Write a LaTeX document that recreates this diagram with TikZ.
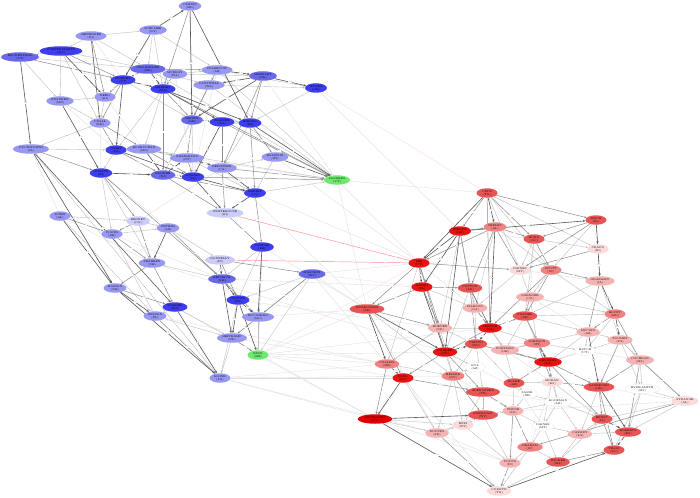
\documentclass[tikz,border=0pt]{standalone}
\usetikzlibrary{shapes.geometric,arrows.meta}
\pgfdeclarelayer{bg}\pgfdeclarelayer{edges}
\pgfsetlayers{bg,edges,main}
\definecolor{cb1}{RGB}{62,62,236}
\definecolor{cb2}{RGB}{104,104,232}
\definecolor{cb3}{RGB}{152,152,242}
\definecolor{cb4}{RGB}{204,204,248}
\definecolor{cg}{RGB}{110,232,110}
\definecolor{cr1}{RGB}{232,20,20}
\definecolor{cr2}{RGB}{232,84,84}
\definecolor{cr3}{RGB}{240,130,130}
\definecolor{cr4}{RGB}{245,178,178}
\definecolor{cr5}{RGB}{250,218,218}
\tikzset{
 nd/.style={ellipse,draw=none,inner xsep=1pt,inner ysep=0.3pt,minimum height=9.5pt,minimum width=21pt,align=center,font=\fontsize{2.6}{2.9}\selectfont,text=black},
 b1/.style={nd,fill=cb1},b2/.style={nd,fill=cb2},b3/.style={nd,fill=cb3},b4/.style={nd,fill=cb4},
 gn/.style={nd,fill=cg},
 r1/.style={nd,fill=cr1},r2/.style={nd,fill=cr2},r3/.style={nd,fill=cr3},r4/.style={nd,fill=cr4},r5/.style={nd,fill=cr5},
 wn/.style={nd,fill=white,draw=black!12,line width=0.2pt},
 de/.style={draw=black!66,line width=0.6pt,-{Stealth[length=2.6pt,width=2.2pt]}},
 me/.style={draw=black!45,line width=0.5pt,-{Stealth[length=2.4pt,width=2pt]}},
 le/.style={draw=black!25,line width=0.4pt,-{Stealth[length=2.2pt,width=1.8pt]}},
 ve/.style={draw=black!13,line width=0.35pt},
 re/.style={draw=red!45,line width=0.45pt},
 rf/.style={draw=red!15,line width=0.35pt},
 el/.style={font=\fontsize{2}{2.2}\selectfont,text=black!60,inner sep=0.2pt,fill=white},
 ell/.style={font=\fontsize{1.7}{2}\selectfont,text=black!35,inner sep=0.2pt}
}
\begin{document}
\begin{tikzpicture}[x=1pt,y=-1pt]
\begin{pgfonlayer}{bg}
\fill[white] (0,0) rectangle (700,497);
\end{pgfonlayer}
\useasboundingbox (0,0) rectangle (700,497);
% ---- blue cluster
\node[b3] (cardin) at (190,6) {CARDIN\\(MD)};
\node[b3] (schumer) at (153,30) {SCHUMER\\(NY)};
\node[b3] (menendez) at (91,36) {MENENDEZ\\(NJ)};
\node[b1] (cortez) at (61,51) {CORTEZ MASTO\\(NV)};
\node[b2] (blumenthal) at (20,57) {BLUMENTHAL\\(CT)};
\node[b2] (vanhollen) at (148,69) {VAN HOLLEN\\(MD)};
\node[b1] (murphy) at (123,80) {MURPHY\\(CT)};
\node[b3] (murray) at (175,74) {MURRAY\\(WA)};
\node[b1] (markey) at (163,89) {MARKEY\\(MA)};
\node[b3] (reed) at (105,97) {REED\\(RI)};
\node[b3] (franken) at (60,101) {FRANKEN\\(MN)};
\node[b3] (stabenow) at (217,70) {STABENOW\\(MI)};
\node[b2] (merkley) at (263,76) {MERKLEY\\(OR)};
\node[b3] (cantwell) at (209,85) {CANTWELL\\(WA)};
\node[b1] (wyden) at (316,88) {WYDEN\\(OR)};
\node[b3] (udall) at (100,123) {UDALL\\(NM)};
\node[b2] (brown) at (192,120) {BROWN\\(OH)};
\node[b1] (warner) at (222,122) {WARNER\\(VA)};
\node[b1] (hirono) at (250,123) {HIRONO\\(HI)};
\node[b3] (duckworth) at (31,149) {DUCKWORTH\\(IL)};
\node[b1] (casey) at (116,150) {CASEY\\(PA)};
\node[b3] (klobuchar) at (144,149) {KLOBUCHAR\\(MN)};
\node[b1] (schatz) at (101,173) {SCHATZ\\(HI)};
\node[b2] (booker) at (163,175) {BOOKER\\(NJ)};
\node[b3] (gillibrand) at (187,158) {GILLIBRAND\\(NY)};
\node[b3] (feinstein) at (222,168) {FEINSTEIN\\(CA)};
\node[b1] (durbin) at (193,177) {DURBIN\\(IL)};
\node[b3] (baldwin) at (275,157) {BALDWIN\\(WI)};
\node[gn] (sanders) at (337,180) {SANDERS\\(VT)};
\node[b1] (harris) at (255,193) {HARRIS\\(CA)};
\node[b4] (whitehouse) at (225,213) {WHITEHOUSE\\(RI)};
\node[b3] (jones) at (60,216) {JONES\\(AL)};
\node[b4] (bennet) at (138,221) {BENNET\\(CO)};
\node[b3] (coons) at (112,234) {COONS\\(DE)};
\node[b3] (peters) at (168,228) {PETERS\\(MI)};
\node[b1] (carper) at (262,247) {CARPER\\(DE)};
\node[b4] (donnelly) at (220,260) {DONNELLY\\(IN)};
\node[b3] (shaheen) at (152,263) {SHAHEEN\\(NH)};
\node[b2] (manchin) at (312,274) {MANCHIN\\(WV)};
\node[b2] (heinrich) at (222,279) {HEINRICH\\(NM)};
\node[b3] (hassan) at (115,288) {HASSAN\\(NH)};
\node[b1] (tester) at (238,300) {TESTER\\(MT)};
\node[b1] (warren) at (175,307) {WARREN\\(MA)};
\node[b3] (nelson) at (155,316) {NELSON\\(FL)};
\node[b3] (mccaskill) at (258,317) {MCCASKILL\\(MO)};
\node[b3] (heitkamp) at (232,338) {HEITKAMP\\(ND)};
\node[gn] (king) at (258,355) {KING\\(ME)};
\node[b3] (kaine) at (220,378) {KAINE\\(VA)};
% ---- red cluster
\node[r2] (cruz) at (487,193) {CRUZ\\(TX)};
\node[r3] (shelby) at (495,227) {SHELBY\\(AL)};
\node[r1] (inhofe) at (460,231) {INHOFE\\(OK)};
\node[r1] (lee) at (419,263) {LEE\\(UT)};
\node[r5] (daines) at (520,270) {DAINES\\(MT)};
\node[r2] (risch) at (596,220) {RISCH\\(ID)};
\node[r5] (crapo) at (598,249) {CRAPO\\(ID)};
\node[r2] (burr) at (534,239) {BURR\\(NC)};
\node[r3] (scott) at (551,270) {SCOTT\\(SC)};
\node[r4] (grassley) at (600,281) {GRASSLEY\\(IA)};
\node[r1] (rubio) at (422,287) {RUBIO\\(FL)};
\node[r2] (cotton) at (470,288) {COTTON\\(AR)};
\node[r2] (murkowski) at (367,309) {MURKOWSKI\\(AK)};
\node[r4] (isakson) at (475,308) {ISAKSON\\(GA)};
\node[r4] (hoeven) at (440,328) {HOEVEN\\(ND)};
\node[r1] (perdue) at (490,328) {PERDUE\\(GA)};
\node[r4] (gardner) at (530,297) {GARDNER\\(CO)};
\node[r2] (fischer) at (525,316) {FISCHER\\(NE)};
\node[r3] (collins) at (387,364) {COLLINS\\(ME)};
\node[r1] (corker) at (445,352) {CORKER\\(TN)};
\node[r2] (capito) at (476,344) {CAPITO\\(WV)};
\node[r4] (portman) at (505,350) {PORTMAN\\(OH)};
\node[r1] (paul) at (403,378) {PAUL\\(KY)};
\node[r3] (heller) at (453,376) {HELLER\\(NV)};
\node[wn] (daines2) at (475,367) {KYL\\(AZ)};
\node[r2] (flake) at (514,383) {FLAKE\\(AZ)};
\node[r2] (alexander) at (483,392) {ALEXANDER\\(TN)};
\node[wn] (sasse2) at (527,394) {SASSE\\(NE)};
\node[r3] (blunt) at (615,314) {BLUNT\\(MO)};
\node[r4] (mccain) at (588,332) {MCCAIN\\(AZ)};
\node[r4] (toomey) at (620,340) {TOOMEY\\(PA)};
\node[r3] (johnson) at (537,343) {JOHNSON\\(WI)};
\node[wn] (hatch2) at (585,351) {HATCH\\(UT)};
\node[r1] (kennedy) at (548,362) {KENNEDY\\(LA)};
\node[r4] (cochran) at (640,360) {COCHRAN\\(MS)};
\node[r5] (moran) at (552,382) {MORAN\\(KS)};
\node[r2] (lankford) at (599,387) {LANKFORD\\(OK)};
\node[wn] (hydesmith) at (642,389) {HYDE-SMITH\\(MS)};
\node[nd,fill=red!90!black] (mcconnell) at (375,419) {MCCONNELL\\(KY)};
\node[r4] (rounds) at (437,433) {ROUNDS\\(SD)};
\node[r5] (enzi) at (463,425) {ENZI\\(WY)};
\node[r2] (barrasso) at (483,415) {BARRASSO\\(WY)};
\node[r4] (thune) at (513,411) {THUNE\\(SD)};
\node[r4] (young) at (510,463) {YOUNG\\(IN)};
\node[r5] (cornyn) at (499,491) {CORNYN\\(TX)};
\node[r5] (strange) at (685,401) {STRANGE\\(AL)};
\node[wn] (boozman) at (558,402) {BOOZMAN\\(AR)};
\node[wn] (hatch) at (543,426) {DAINES\\(MT)};
\node[r4] (cassidy) at (580,434) {CASSIDY\\(LA)};
\node[r2] (ernst) at (602,419) {ERNST\\(IA)};
\node[r2] (roberts) at (628,432) {ROBERTS\\(KS)};
\node[r2] (tillis) at (614,450) {TILLIS\\(NC)};
\node[r2] (graham) at (558,462) {WICKER\\(MS)};
\node[r3] (sullivan) at (530,447) {GRAHAM\\(SC)};
\begin{pgfonlayer}{edges}
% very light cross edges
\foreach \a/\b in {king/mcconnell,king/murkowski,king/corker,king/perdue,king/collins,king/paul,kaine/paul,kaine/rounds,kaine/mcconnell,kaine/heller,sanders/cruz,sanders/lee,sanders/murkowski,manchin/lee,manchin/murkowski,manchin/collins,heitkamp/collins,mccaskill/murkowski,wyden/inhofe,baldwin/lee,feinstein/murkowski,harris/lee,carper/murkowski,shaheen/corker,tester/hoeven,heinrich/rubio,warren/mcconnell,nelson/collins,menendez/murphy,reed/booker,jones/shaheen,franken/casey,duckworth/jones,udall/schatz,coons/heinrich,schatz/peters,bennet/feinstein,murray/durbin,cantwell/booker,stabenow/durbin,merkley/sanders,gillibrand/sanders,collins/hoeven,mcconnell/young,rounds/young,strange/thune,strange/cochran,daines/grassley,burr/gardner,isakson/fischer,hoeven/perdue,heller/thune,alexander/boozman,moran/sullivan,hatch2/cochran,toomey/strange,lankford/strange,inhofe/burr,lee/isakson,rubio/heller,murkowski/rounds,paul/cornyn,flake/hatch,capito/johnson,portman/moran,gardner/mccain,daines2/sasse2,daines2/corker}
 \draw[ve] (\a) -- (\b);
\foreach \a/\b in {whitehouse/lee,donnelly/lee}
 \draw[re] (\a) -- node[ell]{.4} (\b);
\foreach \a/\b in {manchin/rubio,king/lee,wyden/cruz,kaine/collins}
 \draw[rf] (\a) -- (\b);
% light edges
\foreach \a/\b in {schumer/vanhollen,menendez/cortez,blumenthal/vanhollen,cortez/vanhollen,franken/reed,stabenow/wyden,cantwell/wyden,vanhollen/sanders,klobuchar/sanders,jones/bennet,bennet/peters,manchin/king,casey/schatz,markey/klobuchar,brown/booker,gillibrand/harris,feinstein/baldwin,schatz/coons,nelson/heitkamp,mccaskill/king,coons/nelson,heinrich/shaheen,murray/stabenow,reed/udall,franken/udall,cortez/franken,menendez/schumer,hirono/feinstein,carper/tester,cruz/daines,inhofe/isakson,shelby/scott,burr/crapo,lee/collins,cotton/isakson,isakson/capito,hoeven/heller,perdue/portman,fischer/blunt,scott/gardner,grassley/fischer,gardner/blunt,fischer/johnson,fischer/mccain,mccain/toomey,mccain/hatch2,johnson/hatch2,hatch2/kennedy,toomey/cochran,cochran/hydesmith,moran/boozman,hydesmith/roberts,mcconnell/rounds,mcconnell/enzi,rounds/enzi,enzi/barrasso,thune/boozman,boozman/hatch,boozman/ernst,hatch/sullivan,hatch/graham,cassidy/ernst,cassidy/graham,strange/ernst,sullivan/graham,capito/flake,capito/alexander,portman/johnson,heller/enzi,flake/thune,alexander/barrasso,paul/rounds,corker/heller,sasse2/boozman,sasse2/thune,
 cardin/durbin,schumer/markey,schumer/stabenow,menendez/vanhollen,blumenthal/franken,cortez/udall,vanhollen/cantwell,murphy/brown,markey/casey,murray/merkley,stabenow/brown,stabenow/sanders,cantwell/sanders,wyden/hirono,udall/duckworth,duckworth/casey,duckworth/kaine,klobuchar/feinstein,schatz/shaheen,baldwin/harris,harris/sanders,jones/nelson,coons/peters,peters/donnelly,carper/heinrich,manchin/tester,manchin/heitkamp,warren/heitkamp,heitkamp/kaine,carper/king,
 cruz/crapo,cruz/scott,shelby/isakson,inhofe/hoeven,risch/scott,burr/daines,burr/fischer,scott/blunt,grassley/toomey,daines/gardner,daines/isakson,rubio/isakson,cotton/corker,murkowski/heller,hoeven/capito,hoeven/collins,perdue/johnson,gardner/johnson,fischer/portman,collins/heller,corker/daines2,capito/heller,portman/flake,portman/mccain,heller/daines2,heller/rounds,flake/sasse2,flake/moran,alexander/enzi,blunt/hatch2,mccain/kennedy,toomey/hatch2,toomey/hydesmith,kennedy/boozman,moran/ernst,moran/hatch,lankford/cassidy,hydesmith/strange,hydesmith/tillis,barrasso/young,thune/hatch,sullivan/young,sullivan/cornyn,boozman/cassidy,hatch/cassidy,cassidy/roberts,graham/cornyn,graham/ernst,strange/roberts,enzi/young,rounds/barrasso}
 \draw[le] (\a) -- node[ell]{.3} (\b);
\foreach \a/\b in {tester/kaine,risch/grassley,isakson/portman}
 \draw[le] (\a) -- (\b);
% medium edges
\foreach \a/\b in {blumenthal/murphy,cortez/murphy,murphy/udall,vanhollen/stabenow,markey/sanders,stabenow/cantwell,merkley/feinstein,udall/casey,warner/sanders,hirono/baldwin,duckworth/schatz,klobuchar/gillibrand,schatz/heinrich,feinstein/sanders,durbin/sanders,harris/carper,jones/coons,bennet/shaheen,coons/shaheen,peters/heinrich,donnelly/manchin,shaheen/hassan,manchin/mccaskill,heitkamp/king,warren/nelson,booker/whitehouse,casey/klobuchar,cruz/risch,cruz/burr,cruz/perdue,risch/burr,inhofe/shelby,shelby/daines,shelby/burr,lee/murkowski,lee/daines,crapo/daines,scott/grassley,scott/perdue,rubio/cotton,rubio/hoeven,murkowski/hoeven,perdue/fischer,gardner/fischer,corker/paul,blunt/mccain,toomey/lankford,kennedy/moran,kennedy/lankford,cochran/lankford,moran/lankford,lankford/tillis,rounds/cornyn,young/cornyn,ernst/tillis,graham/tillis,thune/young,portman/kennedy,flake/kennedy,heller/barrasso,cochran/strange,strange/sullivan,
 cardin/markey,menendez/reed,vanhollen/murphy,murphy/reed,markey/booker,markey/brown,murray/markey,merkley/hirono,cantwell/brown,udall/klobuchar,brown/gillibrand,warner/feinstein,hirono/harris,casey/booker,klobuchar/durbin,schatz/bennet,booker/harris,gillibrand/durbin,feinstein/whitehouse,bennet/coons,donnelly/tester,shaheen/warren,hassan/warren,nelson/kaine,mccaskill/heitkamp,whitehouse/carper,
 cruz/inhofe,shelby/lee,shelby/cotton,inhofe/cotton,lee/hoeven,lee/corker,risch/daines,burr/scott,scott/fischer,grassley/mccain,rubio/murkowski,cotton/capito,murkowski/paul,isakson/perdue,perdue/corker,fischer/kennedy,collins/mcconnell,corker/alexander,capito/kennedy,paul/alexander,alexander/thune,blunt/cochran,johnson/moran,kennedy/ernst,lankford/ernst,cochran/roberts,barrasso/enzi,thune/sullivan}
 \draw[me] (\a) -- node[el]{.5} (\b);
\draw[me] (heinrich) -- (mccaskill);
% dark edges
\foreach \a/\b in {schumer/cardin,cardin/brown,cardin/hirono,schumer/murphy,menendez/udall,blumenthal/cortez,blumenthal/duckworth,cortez/reed,franken/schatz,murphy/markey,murphy/casey,vanhollen/markey,markey/hirono,markey/warner,stabenow/merkley,merkley/wyden,merkley/cantwell,merkley/brown,brown/warner,warner/hirono,warner/durbin,hirono/sanders,duckworth/hassan,duckworth/warren,casey/durbin,klobuchar/booker,schatz/booker,booker/gillibrand,booker/durbin,gillibrand/feinstein,feinstein/harris,durbin/harris,durbin/whitehouse,baldwin/sanders,harris/whitehouse,jones/hassan,peters/shaheen,carper/mccaskill,donnelly/heinrich,heinrich/tester,heinrich/heitkamp,hassan/nelson,hassan/kaine,tester/mccaskill,tester/heitkamp,tester/king,warren/kaine,
 cruz/lee,cruz/shelby,risch/crapo,inhofe/risch,inhofe/lee,inhofe/rubio,shelby/perdue,lee/rubio,crapo/grassley,grassley/blunt,rubio/corker,cotton/perdue,murkowski/collins,murkowski/corker,perdue/capito,corker/capito,collins/paul,paul/mcconnell,blunt/toomey,mccain/lankford,johnson/kennedy,lankford/roberts,mcconnell/cornyn,mcconnell/barrasso,barrasso/thune,ernst/roberts,roberts/tillis,inhofe/corker,cornyn/tillis}
 \draw[de] (\a) -- node[el]{1.0} (\b);
\end{pgfonlayer}
\end{tikzpicture}
\end{document}
